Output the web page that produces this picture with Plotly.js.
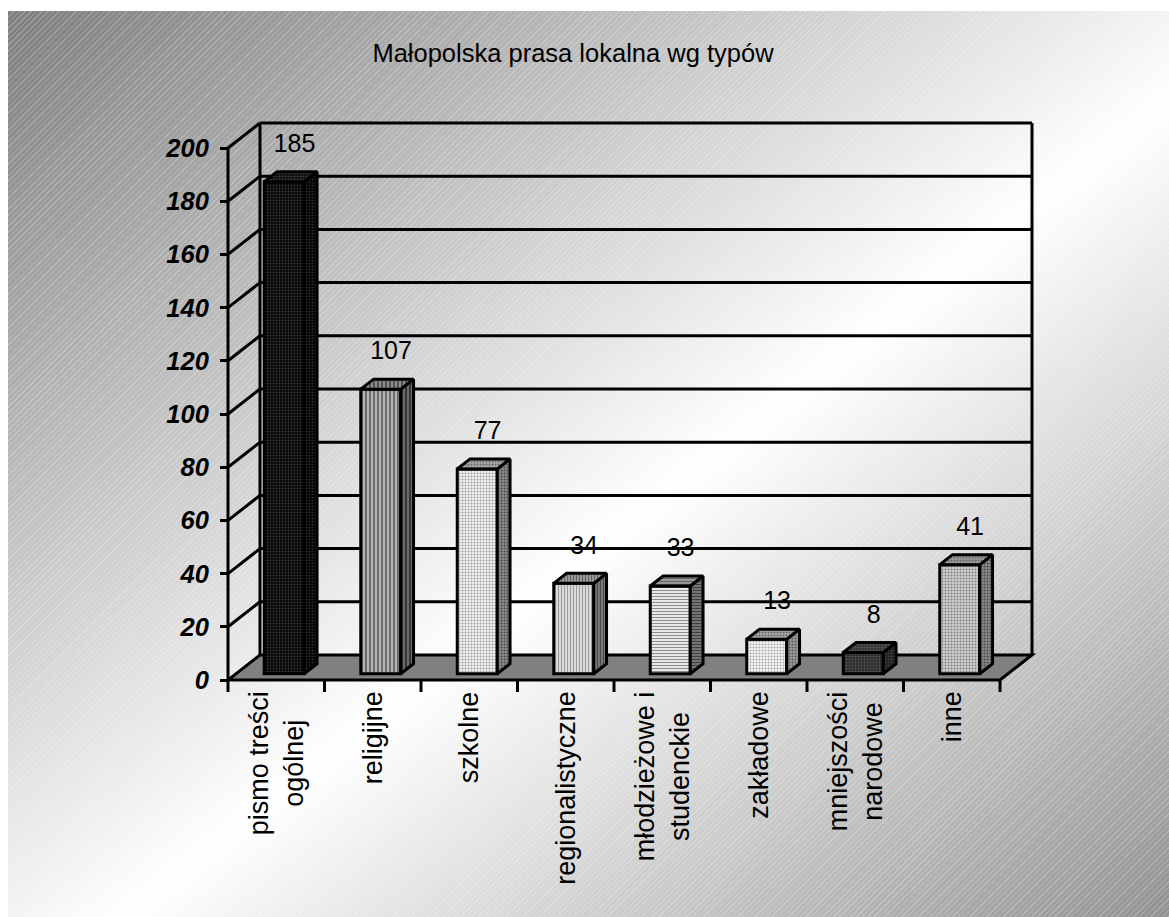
<!DOCTYPE html>
<html>
<head>
<meta charset="utf-8">
<script src="https://cdn.plot.ly/plotly-3.0.1.min.js"></script>
<style>
  html, body { margin: 0; padding: 0; background: #ffffff; }
  #bg {
    position: absolute; left: 8px; top: 11px; width: 1161px; height: 906px;
    background:
      repeating-linear-gradient(135deg, rgba(255,255,255,0.22) 0px, rgba(255,255,255,0.22) 1px, rgba(255,255,255,0) 1px, rgba(255,255,255,0) 4px),
      linear-gradient(to bottom right, #7e7e7e 0%, #ffffff 55%, #929292 100%);
  }
  #chart { position: absolute; left: 0; top: 0; width: 1169px; height: 917px; }
</style>
</head>
<body>
<div id="bg"></div>
<div id="chart"></div>
<script>
// ---------------- DATA ----------------
const chartTitle = 'Małopolska prasa lokalna wg typów';
const categories = ['pismo treści<br>ogólnej', 'religijne', 'szkolne', 'regionalistyczne',
                    'młodzieżowe i<br>studenckie', 'zakładowe', 'mniejszości<br>narodowe', 'inne'];
const values = [185, 107, 77, 34, 33, 13, 8, 41];
const yTickValues = [0, 20, 40, 60, 80, 100, 120, 140, 160, 180, 200];

// ---------------- STYLE (per bar) ----------------
const frontShape = ['.', '|', '.', '|', '-', '.', '.', '.'];
const patSize    = [3, 4, 3, 3, 3, 3, 3, 3];
const frontBg = ['#050505', '#b4b4b4', '#f2f2f2', '#dadada', '#e8e8e8', '#f6f6f6', '#2a2a2a', '#d0d0d0'];
const frontFg = ['#363636', '#4c4c4c', '#9c9c9c', '#9a9a9a', '#8c8c8c', '#a4a4a4', '#575757', '#808080'];
const sideBg  = ['#000000', '#6a6a6a', '#8c8c8c', '#7c7c7c', '#7a7a7a', '#9c9c9c', '#1c1c1c', '#8a8a8a'];
const sideFg  = ['#2c2c2c', '#2a2a2a', '#4a4a4a', '#4a4a4a', '#404040', '#5a5a5a', '#444444', '#4a4a4a'];
const topBg   = ['#0c0c0c', '#8c8c8c', '#acacac', '#9c9c9c', '#9c9c9c', '#acacac', '#343434', '#9c9c9c'];
const topFg   = ['#3c3c3c', '#444444', '#666666', '#666666', '#666666', '#666666', '#585858', '#666666'];

// ---------------- GEOMETRY (pixel layout of the 3D box) ----------------
const FONT = 'Liberation Sans, Arial, sans-serif';
const U = 96.5;      // px per category
const V = 2.66;      // px per value unit
const X0PX = 228, Y0PX = 680;             // front-left-bottom corner in px
const PL = 200, PR = 1050, PT = 100, PB = 695; // plot area in px
const DX = 32 / U, DY = 25 / V;           // depth offset in data units
const F0 = 0.25, F1 = 0.65;               // bar depth fractions
const BW = 40 / U;                         // bar width in data units
const nCat = categories.length;
const yMax = yTickValues[yTickValues.length - 1];

const xRange = [-0.5 - (X0PX - PL) / U, -0.5 + (PR - X0PX) / U];
const yRange = [-(PB - Y0PX) / V, (Y0PX - PT) / V];

// ---------------- WALLS / FLOOR ----------------
const L = { color: '#000000', width: 3 };
const shapes = [];
const xl0 = -0.5, xr0 = nCat - 0.5;
shapes.push({ type: 'path', xref: 'x', yref: 'y', layer: 'below',
  path: `M${xl0},0 L${xr0},0 L${xr0 + DX},${DY} L${xl0 + DX},${DY} Z`,
  fillcolor: '#808080', line: L });
yTickValues.forEach(v => {
  if (v > 0) {
    shapes.push({ type: 'line', xref: 'x', yref: 'y', layer: 'below',
      x0: xl0 + DX, x1: xr0 + DX, y0: v + DY, y1: v + DY, line: L });
    shapes.push({ type: 'line', xref: 'x', yref: 'y', layer: 'below',
      x0: xl0, x1: xl0 + DX, y0: v, y1: v + DY, line: L });
  }
});
shapes.push({ type: 'line', xref: 'x', yref: 'y', layer: 'below',
  x0: xl0 + DX, x1: xl0 + DX, y0: DY, y1: yMax + DY, line: L });
shapes.push({ type: 'line', xref: 'x', yref: 'y', layer: 'below',
  x0: xr0 + DX, x1: xr0 + DX, y0: DY, y1: yMax + DY, line: L });
shapes.push({ type: 'line', xref: 'x', yref: 'y', layer: 'below',
  x0: xl0, x1: xl0, y0: 0, y1: yMax, line: L });
for (let k = 0; k <= nCat; k++) {
  shapes.push({ type: 'line', xref: 'x', yref: 'y', layer: 'below',
    x0: k - 0.5, x1: k - 0.5, y0: 0, y1: -12 / V, line: L });
}

// ---------------- TRACES ----------------
const traces = [];
// front faces of the bars
traces.push({
  type: 'bar',
  x: values.map((_, i) => i + F0 * DX),
  y: values,
  base: F0 * DY,
  width: BW,
  marker: {
    color: '#000000',
    line: { color: '#000000', width: 3 },
    pattern: { shape: frontShape, bgcolor: frontBg, fgcolor: frontFg, size: patSize, solidity: 0.35 }
  },
  hoverinfo: 'skip', showlegend: false
});

// side and top faces
const dX = (F1 - F0) * DX, dY = (F1 - F0) * DY;
values.forEach((v, i) => {
  const xl = i + F0 * DX - BW / 2, xr = xl + BW, b = F0 * DY, t = b + v;
  traces.push({
    type: 'scatter', mode: 'lines', fill: 'toself',
    x: [xr, xr + dX, xr + dX, xr, xr],
    y: [b, b + dY, t + dY, t, b],
    line: { color: '#000000', width: 3 },
    fillcolor: sideBg[i],
    fillpattern: { shape: frontShape[i], bgcolor: sideBg[i], fgcolor: sideFg[i], size: patSize[i], solidity: 0.4 },
    hoverinfo: 'skip', showlegend: false
  });
  traces.push({
    type: 'scatter', mode: 'lines', fill: 'toself',
    x: [xl, xr, xr + dX, xl + dX, xl],
    y: [t, t, t + dY, t + dY, t],
    line: { color: '#000000', width: 3 },
    fillcolor: topBg[i],
    fillpattern: { shape: frontShape[i], bgcolor: topBg[i], fgcolor: topFg[i], size: patSize[i], solidity: 0.4 },
    hoverinfo: 'skip', showlegend: false
  });
});

// value labels
traces.push({
  type: 'scatter', mode: 'text',
  x: values.map((_, i) => i + 0.19),
  y: values.map(v => v + F1 * DY + 26 / V),
  text: values.map(String),
  textposition: 'middle center',
  textfont: { family: FONT, size: 25, color: '#000000' },
  cliponaxis: false, hoverinfo: 'skip', showlegend: false
});

// category labels (rotated, lines centred like the original)
const annotations = categories.map((c, i) => ({
  text: c, x: i, xref: 'x', y: (PB - 689) / (PB - PT), yref: 'paper',
  xanchor: 'center', yanchor: 'top', textangle: -90, align: 'center',
  showarrow: false, font: { family: FONT, size: 27, color: '#000000' }
}));

const layout = {
  width: 1169, height: 917,
  margin: { l: PL, r: 1169 - PR, t: PT, b: 917 - PB, pad: 0 },
  paper_bgcolor: 'rgba(0,0,0,0)',
  plot_bgcolor: 'rgba(0,0,0,0)',
  showlegend: false,
  hovermode: false,
  title: {
    text: chartTitle,
    font: { family: FONT, size: 25.5, color: '#000000' },
    x: 573 / 1169, xref: 'container', xanchor: 'center',
    y: 1 - 53 / 917, yref: 'container', yanchor: 'middle'
  },
  xaxis: {
    type: 'linear', range: xRange,
    tickmode: 'array', tickvals: categories.map((_, i) => i), ticktext: categories,
    showticklabels: false, ticks: '', showgrid: false, zeroline: false, showline: false,
    fixedrange: true
  },
  yaxis: {
    type: 'linear', range: yRange, anchor: 'free', position: (X0PX - PL) / (PR - PL),
    tickmode: 'array', tickvals: yTickValues, ticktext: yTickValues.map(String),
    ticks: 'outside', ticklen: 8, tickwidth: 3, tickcolor: '#000000',
    showgrid: false, zeroline: false, showline: false,
    tickfont: { family: FONT, size: 25.5, color: '#000000', weight: 'bold', style: 'italic' },
    ticklabelstandoff: 6, fixedrange: true
  },
  annotations: annotations,
  shapes: shapes
};

Plotly.newPlot('chart', traces, layout, { displayModeBar: false, staticPlot: true });
</script>
</body>
</html>
